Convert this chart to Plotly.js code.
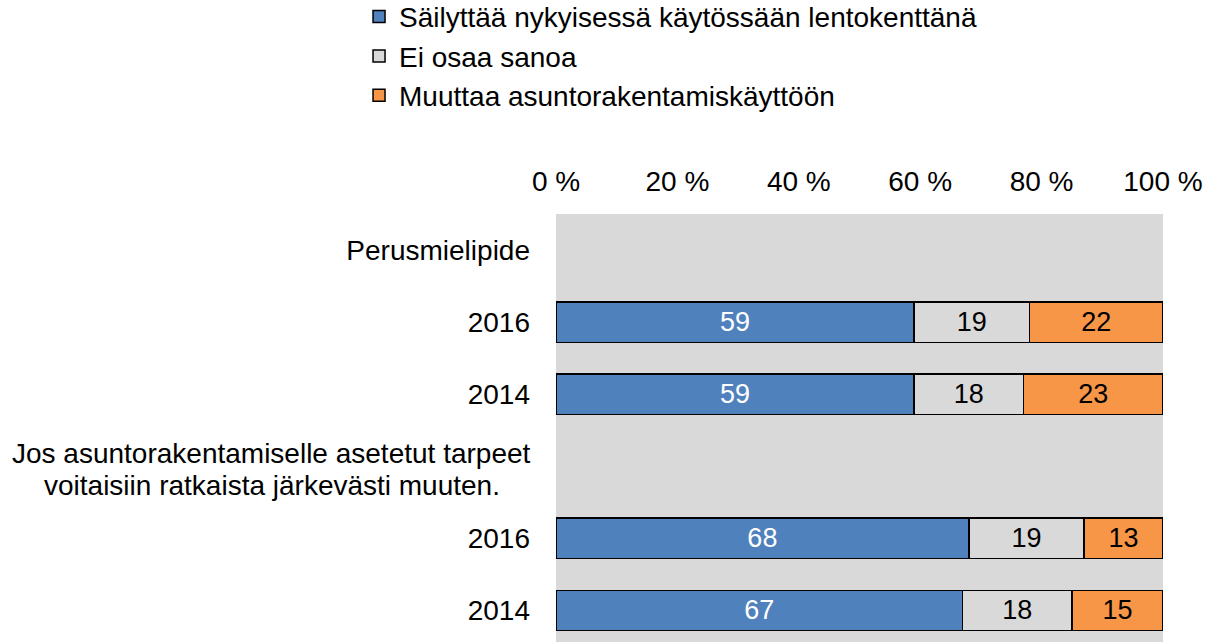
<!DOCTYPE html>
<html>
<head>
<meta charset="utf-8">
<script src="https://cdn.plot.ly/plotly-3.0.1.min.js"></script>
<style>html,body{margin:0;padding:0;background:#fff;}#chart{width:1207px;height:642px;}</style>
</head>
<body>
<div id="chart"></div>
<script>
// Row labels (top to bottom); header rows have no bars
const rowLabels = ["Perusmielipide", "2016", "2014", "", "2016", "2014"];
const headerLines = ["Jos asuntorakentamiselle asetetut tarpeet", "voitaisiin ratkaista järkevästi muuten."];
const headerRow = 3;
const rowPos = [0, 1, 2, 3, 4, 5];

const seriesNames = ["Säilyttää nykyisessä käytössään lentokenttänä", "Ei osaa sanoa", "Muuttaa asuntorakentamiskäyttöön"];
const keepValues = [null, 59, 59, null, 68, 67];
const unsureValues = [null, 19, 18, null, 19, 18];
const changeValues = [null, 22, 23, null, 13, 15];

const xTicks = [0, 20, 40, 60, 80, 100];

const FONT = "Liberation Sans, Arial, sans-serif";
const FS = 28;
const colors = ["#4F81BD", "#D9D9D9", "#F79646"];
const textColors = ["#FFFFFF", "#000000", "#000000"];
const allValues = [keepValues, unsureValues, changeValues];

const traces = allValues.map((vals, i) => ({
  type: "bar",
  orientation: "h",
  name: seriesNames[i],
  legendgroup: "g" + i,
  x: vals,
  y: rowPos,
  width: 0.56,
  marker: {color: colors[i], line: {color: "#000000", width: 1.5}},
  text: vals.map(v => v === null ? "" : String(v)),
  textposition: "inside",
  insidetextanchor: "middle",
  constraintext: "none",
  textfont: {family: FONT, size: FS - 1, color: textColors[i]},
  hoverinfo: "skip"
}));

const layout = {
  width: 1207,
  height: 642,
  barmode: "stack",
  bargap: 0,
  paper_bgcolor: "#FFFFFF",
  plot_bgcolor: "#D9D9D9",
  margin: {l: 556, r: 44, t: 214, b: 0, pad: 0, autoexpand: false},
  font: {family: FONT, size: FS, color: "#000000"},
  xaxis: {
    side: "top",
    range: [0, 100],
    tickvals: xTicks,
    ticktext: xTicks.map(v => v + " %"),
    showgrid: false,
    zeroline: false,
    showline: false,
    ticks: "",
    ticklabelstandoff: 16,
    tickfont: {family: FONT, size: FS, color: "#000000"},
    fixedrange: true
  },
  yaxis: {
    range: [5.437, -0.5],
    tickvals: rowPos,
    ticktext: rowLabels,
    showgrid: false,
    zeroline: false,
    showline: false,
    ticks: "",
    ticklabelstandoff: 25,
    tickfont: {family: FONT, size: FS, color: "#000000"},
    fixedrange: true
  },
  showlegend: true,
  legend: {
    orientation: "v",
    traceorder: "normal",
    x: -0.3245,
    xanchor: "left",
    y: 1.519,
    yanchor: "top",
    tracegroupgap: 5,
    bgcolor: "rgba(0,0,0,0)",
    font: {family: FONT, size: FS, color: "#000000"}
  },
  annotations: headerLines.map((line, k) => ({
    text: line,
    xref: "paper",
    x: -0.468,
    xanchor: "center",
    yref: "y",
    y: rowPos[headerRow],
    yanchor: "middle",
    yshift: k === 0 ? 13 : -19,
    align: "center",
    showarrow: false,
    font: {family: FONT, size: FS, color: "#000000"}
  }))
};

Plotly.newPlot("chart", traces, layout, {displayModeBar: false, staticPlot: true});
</script>
</body>
</html>
